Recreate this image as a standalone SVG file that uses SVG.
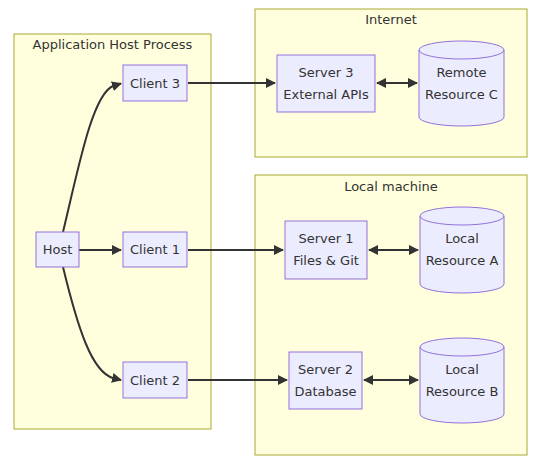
<svg xmlns="http://www.w3.org/2000/svg" width="535" height="462" viewBox="0 0 535 462">
<style>
.cl{fill:#ffffde;stroke:#aaaa33;stroke-width:1}
.nd{fill:#ECECFF;stroke:#9370DB;stroke-width:1}
text{font-family:"DejaVu Sans","Liberation Sans",sans-serif;font-size:13px;fill:#333;text-anchor:middle;dominant-baseline:central}
.e{fill:none;stroke:#333;stroke-width:2}
</style>
<defs>
<marker id="ah" viewBox="0 0 10 10" refX="9" refY="5" markerWidth="5" markerHeight="5" orient="auto-start-reverse" markerUnits="strokeWidth">
<path d="M0,0 L10,5 L0,10 z" fill="#333"/>
</marker>
</defs>
<rect width="535" height="462" fill="#fff"/>
<g id="cluster-app"><rect class="cl" x="14" y="34" width="197" height="395"/><text x="112.5" y="44">Application Host Process</text></g>
<g id="cluster-internet"><rect class="cl" x="255" y="9" width="272" height="148"/><text x="391" y="19">Internet</text></g>
<g id="cluster-local"><rect class="cl" x="255" y="175" width="272" height="280"/><text x="391" y="186">Local machine</text></g>
<g id="edges">
<path class="e" d="M63,232 C78,170 92,95 113,86 L121,83.5" marker-end="url(#ah)"/>
<path class="e" d="M63,267 C78,329 92,372 113,378 L121,380" marker-end="url(#ah)"/>
<path class="e" d="M79,250 L121,250" marker-end="url(#ah)"/>
<path class="e" d="M188,83 L275,83" marker-end="url(#ah)"/>
<path class="e" d="M188,250 L283,250" marker-end="url(#ah)"/>
<path class="e" d="M188,380 L287,380" marker-end="url(#ah)"/>
<path class="e" d="M377,83 L417,83" marker-start="url(#ah)" marker-end="url(#ah)"/>
<path class="e" d="M369,250 L418,250" marker-start="url(#ah)" marker-end="url(#ah)"/>
<path class="e" d="M364,380 L418,380" marker-start="url(#ah)" marker-end="url(#ah)"/>
</g>
<g id="host"><rect class="nd" x="36" y="232" width="43" height="35"/><text x="57.5" y="249.5">Host</text></g>
<g id="client3"><rect class="nd" x="123" y="65" width="64" height="36"/><text x="155" y="83">Client 3</text></g>
<g id="client1"><rect class="nd" x="123" y="232" width="64" height="35"/><text x="155" y="249.5">Client 1</text></g>
<g id="client2"><rect class="nd" x="123" y="362" width="64" height="36"/><text x="155" y="380">Client 2</text></g>
<g id="server3"><rect class="nd" x="277" y="55" width="98" height="57"/><text x="326" y="72">Server 3</text><text x="326" y="94">External APIs</text></g>
<g id="server1"><rect class="nd" x="285" y="221" width="82" height="58"/><text x="326" y="238">Server 1</text><text x="326" y="260">Files &amp; Git</text></g>
<g id="server2"><rect class="nd" x="289" y="352" width="73" height="57"/><text x="325.5" y="369">Server 2</text><text x="325.5" y="391">Database</text></g>
<g id="resC"><path class="nd" d="M419,50 a42.5,9 0 0 0 85,0 a42.5,9 0 0 0 -85,0 l0,67 a42.5,9 0 0 0 85,0 l0,-67"/><text x="461.5" y="72">Remote</text><text x="461.5" y="94">Resource C</text></g>
<g id="resA"><path class="nd" d="M420,216 a42,9 0 0 0 84,0 a42,9 0 0 0 -84,0 l0,68 a42,9 0 0 0 84,0 l0,-68"/><text x="462" y="238">Local</text><text x="462" y="260">Resource A</text></g>
<g id="resB"><path class="nd" d="M420,347 a42,9 0 0 0 84,0 a42,9 0 0 0 -84,0 l0,67 a42,9 0 0 0 84,0 l0,-67"/><text x="462" y="369">Local</text><text x="462" y="391">Resource B</text></g>
</svg>
